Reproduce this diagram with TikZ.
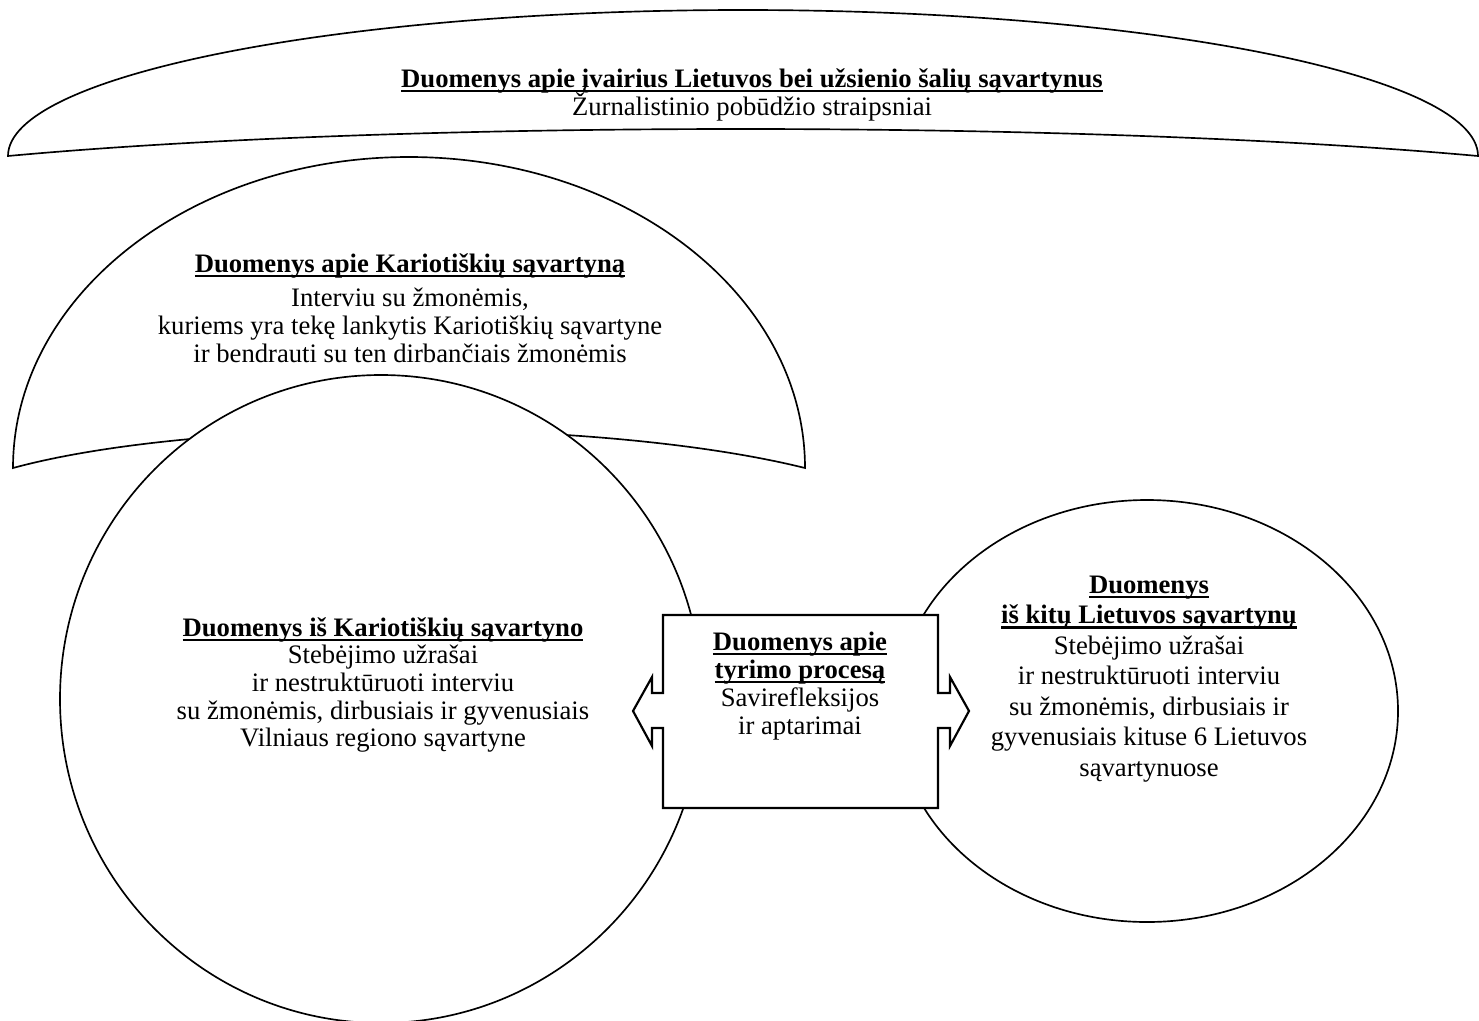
\documentclass[tikz,border=0pt]{standalone}
\usepackage{fontspec}
\setmainfont{Liberation Serif}
\usetikzlibrary{positioning}
\newcommand{\pabr}[1]{\setbox0\hbox{#1}\rlap{\rule[-2.8pt]{\wd0}{1.3pt}}\box0}
\newcommand{\tekstas}[1]{\fontsize{16}{#1}\selectfont\lineskiplimit=-20pt\relax}
\begin{document}
\begin{tikzpicture}[x=0.6pt,y=-0.6pt,line width=1pt,
  shp/.style={draw,fill=white,line join=miter},
  txt/.style={align=center,inner sep=0pt,font=\tekstas{16.6}}]
\useasboundingbox (0,0) rectangle (1479,1020);

% lankai
\draw[shp] (8,156) arc[start angle=180,end angle=360,x radius=735,y radius=146]
  .. controls (1080,120) and (400,120) .. cycle;
\draw[shp] (13,468) arc[start angle=180,end angle=360,x radius=396,y radius=311]
  .. controls (600,417) and (200,417) .. cycle;

% apskritimai
\draw[shp] (381,699) ellipse[x radius=321,y radius=324];
\draw[shp] (1147,711) ellipse[x radius=251,y radius=211];

% dezute su rodyklemis
\draw[shp,line width=1.3pt] (663,615) -- (938,615) -- (938,693) -- (950,693) -- (950,677) -- (969,711)
  -- (950,746) -- (950,728) -- (938,728) -- (938,808) -- (663,808) -- (663,728)
  -- (652,728) -- (652,746) -- (633,711) -- (652,677) -- (652,693) -- (663,693) -- cycle;

\node[txt] (ivairus) at (752,95) {\pabr{\textbf{Duomenys apie įvairius Lietuvos bei užsienio šalių sąvartynus}}\\
  Žurnalistinio pobūdžio straipsniai};
\node[txt] (apie) at (410,308) {\pabr{\textbf{Duomenys apie Kariotiškių sąvartyną}}\\[4pt]
  Interviu su žmonėmis,\\
  kuriems yra tekę lankytis Kariotiškių sąvartyne\\
  ir bendrauti su ten dirbančiais žmonėmis};
\node[txt] (kariot) at (383,685) {\pabr{\textbf{Duomenys iš Kariotiškių sąvartyno}}\\
  Stebėjimo užrašai\\
  ir nestruktūruoti interviu\\
  su žmonėmis, dirbusiais ir gyvenusiais\\
  Vilniaus regiono sąvartyne};
\node[txt,font=\tekstas{16.9}] (tyrimo) at (800,686) {\pabr{\textbf{Duomenys apie}}\\
  \pabr{\textbf{tyrimo procesą}}\\
  Savirefleksijos\\
  ir aptarimai};
\node[txt,font=\tekstas{18.3}] (kitu) at (1149,679) {\pabr{\textbf{Duomenys}}\\
  \pabr{\textbf{iš kitų Lietuvos sąvartynų}}\\
  Stebėjimo užrašai\\
  ir nestruktūruoti interviu\\
  su žmonėmis, dirbusiais ir\\
  gyvenusiais kituse 6 Lietuvos\\
  sąvartynuose};
\end{tikzpicture}
\end{document}
